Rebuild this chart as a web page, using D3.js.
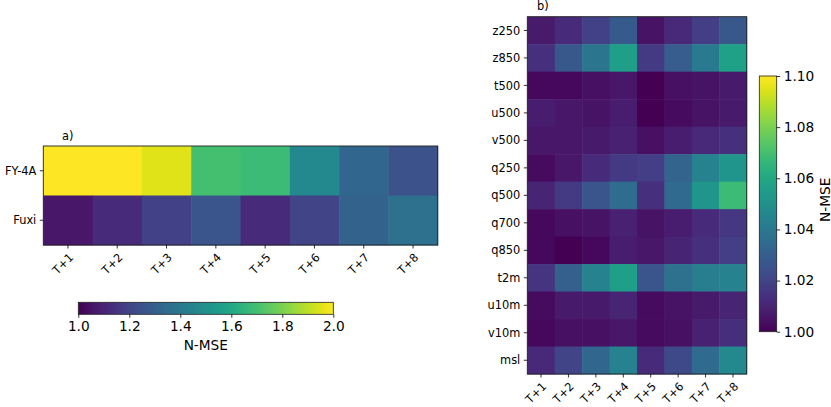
<!DOCTYPE html>
<html><head><meta charset="utf-8">
<script src="https://cdn.jsdelivr.net/npm/d3@7"></script>
<style>
body{margin:0;background:#fff;}
text{font-family:"DejaVu Sans",sans-serif;fill:#000;}
</style></head>
<body>
<svg id="c" width="831" height="407"></svg>
<script>
const steps = ["T+1","T+2","T+3","T+4","T+5","T+6","T+7","T+8"];
const modelsA = ["FY-4A","Fuxi"];
const fy4a = [2.03, 2.00, 1.95, 1.70, 1.68, 1.47, 1.33, 1.25];
const fuxi = [1.06, 1.12, 1.19, 1.26, 1.12, 1.20, 1.31, 1.37];
const varsB = ["z250","z850","t500","u500","v500","q250","q500","q700","q850","t2m","u10m","v10m","msl"];
const z250 = [1.007,1.012,1.019,1.028,1.005,1.011,1.018,1.027];
const z850 = [1.014,1.027,1.039,1.056,1.017,1.029,1.041,1.057];
const t500 = [1.002,1.002,1.004,1.006,1.000,1.004,1.005,1.007];
const u500 = [1.008,1.006,1.005,1.008,1.000,1.003,1.005,1.007];
const v500 = [1.006,1.006,1.007,1.009,1.004,1.008,1.011,1.014];
const q250 = [1.003,1.006,1.012,1.017,1.018,1.032,1.044,1.052];
const q500 = [1.010,1.017,1.026,1.035,1.014,1.034,1.052,1.068];
const q700 = [1.002,1.004,1.005,1.009,1.005,1.008,1.012,1.016];
const q850 = [1.002,1.000,1.002,1.008,1.006,1.010,1.014,1.018];
const t2m  = [1.015,1.030,1.044,1.056,1.026,1.037,1.042,1.044];
const u10m = [1.003,1.007,1.007,1.010,1.003,1.005,1.007,1.010];
const v10m = [1.002,1.004,1.004,1.006,1.003,1.004,1.009,1.013];
const msl  = [1.011,1.020,1.033,1.044,1.012,1.022,1.034,1.047];
const ticksA = [1.0,1.2,1.4,1.6,1.8,2.0];
const ticksB = [1.00,1.02,1.04,1.06,1.08,1.10];

const svg = d3.select("#c");
const TICK_FS = 11.4, CB_FS = 13.7;

function heatmap(opts){
  const {x0,x1,y0,y1,rows,rowData,dom,label,labelX,labelY} = opts;
  const g = svg.append("g");
  const x = d3.scaleBand().domain(steps).range([x0,x1]).padding(0);
  const y = d3.scaleBand().domain(rows).range([y0,y1]).padding(0);
  const col = d3.scaleSequential(d3.interpolateViridis).domain(dom).clamp(true);
  const cells = [];
  rows.forEach((r,i)=>steps.forEach((s,j)=>cells.push({r,s,v:rowData[i][j]})));
  g.selectAll("rect.cell").data(cells).join("rect")
    .attr("x",d=>x(d.s)).attr("y",d=>y(d.r))
    .attr("width",x.bandwidth()+0.5).attr("height",y.bandwidth()+0.5)
    .attr("fill",d=>col(d.v));
  g.append("rect").attr("x",x0).attr("y",y0).attr("width",x1-x0).attr("height",y1-y0)
    .attr("fill","none").attr("stroke","#222").attr("stroke-width",0.9);
  // y ticks
  rows.forEach(r=>{
    const cy = y(r)+y.bandwidth()/2;
    g.append("line").attr("x1",x0-3.5).attr("x2",x0).attr("y1",cy).attr("y2",cy).attr("stroke","#000").attr("stroke-width",0.8);
    g.append("text").attr("x",x0-7).attr("y",cy).attr("dy","0.36em").attr("text-anchor","end")
      .style("font-size",TICK_FS+"px").text(r);
  });
  // x ticks
  steps.forEach(s=>{
    const cx = x(s)+x.bandwidth()/2;
    g.append("line").attr("x1",cx).attr("x2",cx).attr("y1",y1).attr("y2",y1+3.5).attr("stroke","#000").attr("stroke-width",0.8);
    g.append("text").attr("transform",`translate(${cx},${y1+7}) rotate(-45)`)
      .attr("text-anchor","end").attr("dy","0.76em").style("font-size",TICK_FS+"px").text(s);
  });
  g.append("text").attr("x",labelX).attr("y",labelY).style("font-size",TICK_FS+"px").text(label);
}

heatmap({x0:43.3,x1:437.7,y0:146,y1:245,rows:modelsA,rowData:[fy4a,fuxi],dom:[1,2],label:"a)",labelX:62,labelY:140});
heatmap({x0:527.3,x1:746.7,y0:16.7,y1:374,rows:varsB,
  rowData:[z250,z850,t500,u500,v500,q250,q500,q700,q850,t2m,u10m,v10m,msl],
  dom:[1,1.1],label:"b)",labelX:537,labelY:10});

// colorbar a (horizontal)
(function(){
  const x0=78.3,x1=333.3,y0=302.3,y1=314.3;
  const sc = d3.scaleLinear().domain([1,2]).range([x0,x1]);
  const defs = svg.append("defs");
  const gr = defs.append("linearGradient").attr("id","ga").attr("x1","0%").attr("x2","100%").attr("y1","0%").attr("y2","0%");
  d3.range(0,1.0001,0.05).forEach(t=>gr.append("stop").attr("offset",(t*100)+"%").attr("stop-color",d3.interpolateViridis(t)));
  svg.append("rect").attr("x",x0).attr("y",y0).attr("width",x1-x0).attr("height",y1-y0).attr("fill","url(#ga)")
    .attr("stroke","#222").attr("stroke-width",0.8);
  const ax = svg.append("g").attr("transform",`translate(0,${y1})`)
    .call(d3.axisBottom(sc).tickValues(ticksA).tickFormat(d3.format(".1f")).tickSize(3.5).tickPadding(3.5));
  ax.select(".domain").remove();
  ax.selectAll("line").attr("stroke","#000").attr("stroke-width",0.8);
  ax.selectAll("text").style("font-size",CB_FS+"px").style("font-family","DejaVu Sans");
  svg.append("text").attr("x",(x0+x1)/2).attr("y",350).attr("text-anchor","middle").style("font-size",CB_FS+"px").text("N-MSE");
})();

// colorbar b (vertical)
(function(){
  const x0=759.3,x1=776.7,y0=76,y1=331.7;
  const sc = d3.scaleLinear().domain([1,1.1]).range([y1,y0]);
  const gr = svg.select("defs").append("linearGradient").attr("id","gb").attr("x1","0%").attr("x2","0%").attr("y1","100%").attr("y2","0%");
  d3.range(0,1.0001,0.05).forEach(t=>gr.append("stop").attr("offset",(t*100)+"%").attr("stop-color",d3.interpolateViridis(t)));
  svg.append("rect").attr("x",x0).attr("y",y0).attr("width",x1-x0).attr("height",y1-y0).attr("fill","url(#gb)")
    .attr("stroke","#222").attr("stroke-width",0.8);
  const ax = svg.append("g").attr("transform",`translate(${x1},0)`)
    .call(d3.axisRight(sc).tickValues(ticksB).tickFormat(d3.format(".2f")).tickSize(3.5).tickPadding(3.5));
  ax.select(".domain").remove();
  ax.selectAll("line").attr("stroke","#000").attr("stroke-width",0.8);
  ax.selectAll("text").style("font-size",CB_FS+"px").style("font-family","DejaVu Sans");
  svg.append("text").attr("transform",`translate(829.5,${(y0+y1)/2-4}) rotate(-90)`).attr("text-anchor","middle")
    .style("font-size",CB_FS+"px").text("N-MSE");
})();
</script>
</body></html>
